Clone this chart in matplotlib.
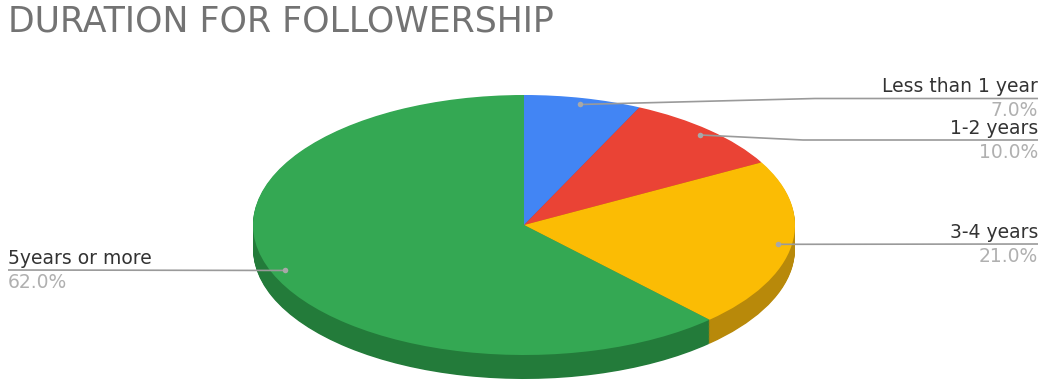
import numpy as np
import matplotlib
matplotlib.use("Agg")
from matplotlib import pyplot as plt

# Duration for followership (share of respondents, %)
categorias = ["Less than 1 year", "1-2 years", "3-4 years", "5years or more"]
porcentajes = [7.0, 10.0, 21.0, 62.0]
colores = ["#4285F4", "#EA4335", "#FBBC04", "#34A853"]
colores_lado = ["#2f64c0", "#b03226", "#b8890a", "#237b3a"]

W, H = 1044, 384
fig = plt.figure(figsize=(W / 100, H / 100), dpi=100)

# pie box in pixels (top origin): top face 95..355, depth 24 px
izq, der, arriba, abajo = 253, 795, 95, 379
prof_px = 24
ry_px = (abajo - prof_px - arriba) / 2
prof = prof_px / ry_px

ax = fig.add_axes([izq / W, (H - abajo) / H, (der - izq) / W, (abajo - arriba) / H])

# side wall: stack of darker pies going down
capas = 30
for k in range(capas, 0, -1):
    ax.pie(porcentajes, colors=colores_lado, startangle=90, counterclock=False,
           radius=1, center=(0, -prof * k / capas),
           wedgeprops=dict(linewidth=0, antialiased=True))
# top face
ax.pie(porcentajes, colors=colores, startangle=90, counterclock=False,
       radius=1, center=(0, 0), wedgeprops=dict(linewidth=0))
ax.set_aspect("auto")
ax.set_xlim(-1, 1)
ax.set_ylim(-1 - prof, 1)
ax.axis("off")

# overlay in pixel coordinates for leaders and labels
ov = fig.add_axes([0, 0, 1, 1])
ov.set_xlim(0, W)
ov.set_ylim(H, 0)
ov.axis("off")
ov.patch.set_alpha(0)

fig.canvas.draw()
a_pix = lambda p: ov.transData.inverted().transform(ax.transData.transform(p))

# leader line routes (after the dot), label anchor and alignment
rutas = [
    [(815, 98.5), (1038, 98.5)],
    [(803, 140), (1038, 140)],
    [(1038, 244)],
    [(8, 270)],
]
etiquetas = [
    (1038, 87, 111, "right"),
    (1038, 129, 152, "right"),
    (1038, 232, 256, "right"),
    (8, 258, 282, "left"),
]

acum = np.cumsum([0] + porcentajes)
for i, p in enumerate(porcentajes):
    medio = np.deg2rad((acum[i] + p / 2) / 100 * 360)
    punto = a_pix((0.95 * np.sin(medio), 0.95 * np.cos(medio)))
    xs = [punto[0]] + [q[0] for q in rutas[i]]
    ys = [punto[1]] + [q[1] for q in rutas[i]]
    ov.plot(xs, ys, color="#9a9a9a", lw=1.2, solid_capstyle="butt")
    ov.plot(punto[0], punto[1], "o", ms=4, color="#a8a8a8", mec="none")
    x, y1, y2, ha = etiquetas[i]
    ov.text(x, y1, categorias[i], ha=ha, va="center", fontsize=13.5, color="#333333")
    ov.text(x, y2, f"{p:.1f}%", ha=ha, va="center", fontsize=13.5, color="#b0b0b0")

fig.text(8 / W, 1 - 21 / H, "DURATION FOR FOLLOWERSHIP", ha="left", va="center",
         fontsize=25, color="#737373")

fig.savefig("out.png", dpi=100, facecolor="white")
